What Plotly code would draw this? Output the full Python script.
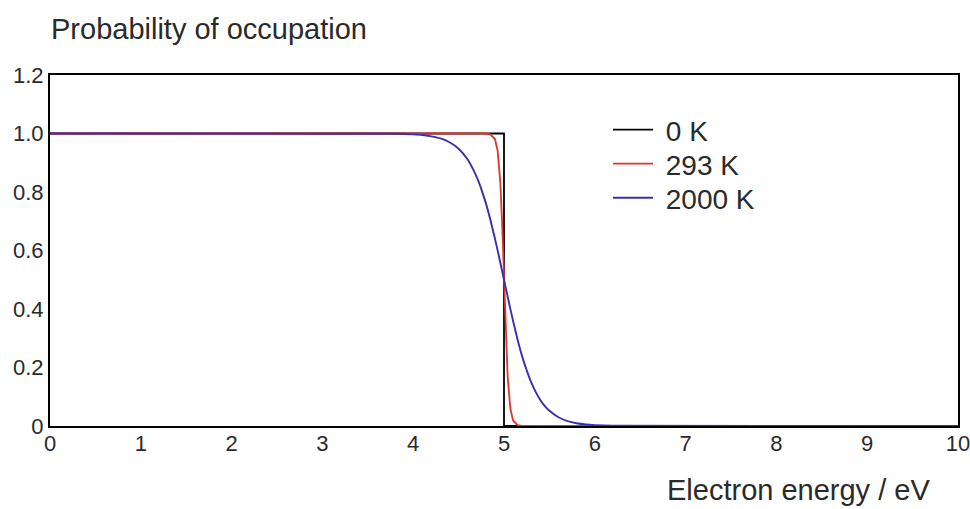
import plotly.graph_objects as go

# Data
e_0k = [0, 5, 5, 10]
p_0k = [1, 1, 0, 0]

e_293k = [0, 4.8, 4.85, 4.9, 4.93, 4.96, 4.98, 5.0, 5.02, 5.04, 5.07, 5.1, 5.15, 5.2, 10]
p_293k = [1.0, 1.0, 0.997, 0.981, 0.941, 0.830, 0.688, 0.5, 0.312, 0.170, 0.059, 0.019, 0.003, 0.0, 0.0]

e_2000k = [0, 3.8, 4.0, 4.1, 4.2, 4.3, 4.4, 4.5, 4.6, 4.7, 4.75, 4.8, 4.85, 4.9, 4.95, 5.0,
           5.05, 5.1, 5.15, 5.2, 5.25, 5.3, 5.35, 5.4, 5.45, 5.5, 5.6, 5.7, 5.8, 5.9, 6.0, 6.2, 10]
p_2000k = [1.0, 0.999, 0.997, 0.995, 0.990, 0.983, 0.970, 0.948, 0.911, 0.851, 0.810, 0.762, 0.705, 0.641, 0.572, 0.5,
           0.428, 0.359, 0.295, 0.238, 0.190, 0.149, 0.116, 0.089, 0.068, 0.052, 0.030, 0.017, 0.0095, 0.0053, 0.003, 0.001, 0.0]

series_names = ["0 K", "293 K", "2000 K"]

x_ticks = [0, 1, 2, 3, 4, 5, 6, 7, 8, 9, 10]
y_ticks = [0, 0.2, 0.4, 0.6, 0.8, 1.0, 1.2]
y_tick_labels = ["0", "0.2", "0.4", "0.6", "0.8", "1.0", "1.2"]

FONT = "Liberation Sans, Arial, sans-serif"
TXT = "#2a2a2a"

# plot area in pixels: x 50..958, y 75..426
PL, PR, PT, PB = 50, 958, 75, 426
PW, PH = PR - PL, PB - PT

NB = "\u00a0"  # small gap between legend line and its text

fig = go.Figure()
fig.add_trace(go.Scatter(x=e_0k, y=p_0k, mode="lines", name=NB + series_names[0], legend="legend",
                         showlegend=True, line=dict(color="#000000", width=1.8)))
fig.add_trace(go.Scatter(x=e_293k, y=p_293k, mode="lines", name=NB + series_names[1], legend="legend2",
                         showlegend=True, line=dict(color="#e2332c", width=1.8)))
fig.add_trace(go.Scatter(x=e_2000k, y=p_2000k, mode="lines", name=NB + series_names[2], legend="legend3",
                         showlegend=True, line=dict(color="#3a2fb3", width=1.9, shape="spline", smoothing=0.5)))

def leg(ycenter):
    return dict(x=(608 - PL) / PW, y=(PB - ycenter) / PH, xanchor="left", yanchor="middle",
                bgcolor="rgba(0,0,0,0)", font=dict(size=28, color=TXT, family=FONT),
                itemwidth=40, visible=True)

fig.update_layout(
    width=970, height=509,
    margin=dict(l=PL, r=970 - PR, t=PT, b=509 - PB),
    paper_bgcolor="white", plot_bgcolor="white",
    showlegend=True,
    font=dict(family=FONT, color=TXT),
    title=dict(text="Probability of occupation", x=51/970, xanchor="left",
               y=1-29/509, yanchor="middle", font=dict(size=29, color=TXT, family=FONT)),
    legend=leg(130), legend2=leg(164), legend3=leg(198),
    xaxis=dict(range=[0, 10], tickvals=x_ticks, ticks="", showgrid=False, zeroline=False,
               showline=True, linecolor="black", linewidth=2, mirror=True, automargin=False,
               ticklabeloverflow="allow", ticklabelstandoff=-3,
               tickfont=dict(size=22, color=TXT, family=FONT)),
    yaxis=dict(range=[0, 1.2], tickvals=y_ticks, ticktext=y_tick_labels, ticks="",
               showgrid=False, zeroline=False, automargin=False,
               showline=True, linecolor="black", linewidth=2, mirror=True,
               ticklabeloverflow="allow",
               tickfont=dict(size=22, color=TXT, family=FONT)),
    annotations=[dict(text="Electron energy / eV", xref="paper", yref="paper",
                      x=(932-PL)/PW, y=(PB-490)/PH, xanchor="right", yanchor="middle",
                      showarrow=False, font=dict(size=29, color=TXT, family=FONT))],
)

fig.write_html("out.html", config={"displayModeBar": False},
               post_script="document.body.style.margin='0';")
